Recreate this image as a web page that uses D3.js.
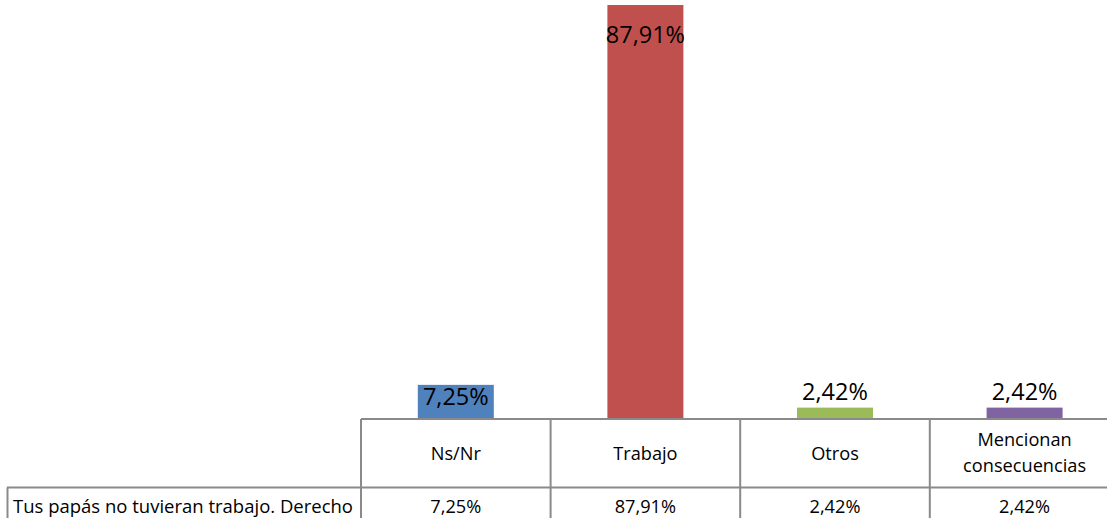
<!DOCTYPE html>
<html><head><meta charset="utf-8">
<script src="https://cdn.jsdelivr.net/npm/d3@7"></script>
<style>body{margin:0;background:#fff;overflow:hidden}svg{display:block}</style>
</head><body>
<script>
const categories = ["Ns/Nr", "Trabajo", "Otros", "Mencionan consecuencias"];
const categoryLines = [["Ns/Nr"], ["Trabajo"], ["Otros"], ["Mencionan", "consecuencias"]];
const values = [7.25, 87.91, 2.42, 2.42];
const valueLabels = ["7,25%", "87,91%", "2,42%", "2,42%"];
const colors = ["#4f81bd", "#c0504d", "#9bbb59", "#8064a2"];
const seriesName = "Tus papás no tuvieran trabajo. Derecho";

const W = 1107, H = 518;
const svg = d3.select("body").append("svg").attr("width", W).attr("height", H);

const baseY = 419, tableLeft = 361, colW = 189.6;
const x = d3.scaleBand().domain(categories).range([tableLeft, tableLeft + colW * 4]).paddingInner(0).paddingOuter(0);
const y = d3.scaleLinear().domain([0, 90]).range([baseY, baseY - 90 * 4.709]);
const barW = 76;

svg.selectAll("rect.bar").data(values).join("rect")
  .attr("x", (d, i) => x(categories[i]) + x.bandwidth() / 2 - barW / 2)
  .attr("y", d => y(d))
  .attr("width", barW)
  .attr("height", d => baseY - y(d))
  .attr("fill", (d, i) => colors[i]);

const font = "'Open Sans', sans-serif";
svg.selectAll("text.lbl").data(values).join("text")
  .attr("x", (d, i) => x(categories[i]) + x.bandwidth() / 2)
  .attr("y", d => d > 50 ? y(d) + 38 : d > 5 ? y(d) + 20 : y(d) - 8)
  .attr("text-anchor", "middle")
  .attr("font-family", font).attr("font-size", 23.5).attr("fill", "#000")
  .text((d, i) => valueLabels[i]);

// data table
const lineCol = "#8a8a8a";
const g = svg.append("g").attr("stroke", lineCol).attr("stroke-width", 2).attr("fill", "none");
const tableRight = tableLeft + colW * 4;
g.append("line").attr("x1", tableLeft).attr("x2", tableRight).attr("y1", baseY).attr("y2", baseY);
g.append("line").attr("x1", 7).attr("x2", tableRight).attr("y1", 487.5).attr("y2", 487.5);
g.append("line").attr("x1", 7.5).attr("x2", 7.5).attr("y1", 487.5).attr("y2", H + 5);
for (let i = 0; i <= 4; i++) {
  const xx = tableLeft + colW * i;
  g.append("line").attr("x1", xx).attr("x2", xx).attr("y1", baseY).attr("y2", H + 5);
}

const tfs = 18.2;
categoryLines.forEach((lines, i) => {
  const cx = x(categories[i]) + x.bandwidth() / 2;
  const t = svg.append("text").attr("text-anchor", "middle")
    .attr("font-family", font).attr("font-size", tfs).attr("fill", "#000");
  const y0 = lines.length === 1 ? 460 : 446;
  lines.forEach((s, k) => t.append("tspan").attr("x", cx).attr("y", y0 + k * 25.5).text(s));
  svg.append("text").attr("x", cx).attr("y", 513).attr("text-anchor", "middle")
    .attr("font-family", font).attr("font-size", tfs).attr("fill", "#000")
    .text(valueLabels[i]);
});

svg.append("text").attr("x", 13).attr("y", 513)
  .attr("font-family", font).attr("font-size", 18).attr("fill", "#000")
  .attr("textLength", 340).attr("lengthAdjust", "spacingAndGlyphs")
  .text(seriesName);
</script>
</body></html>
